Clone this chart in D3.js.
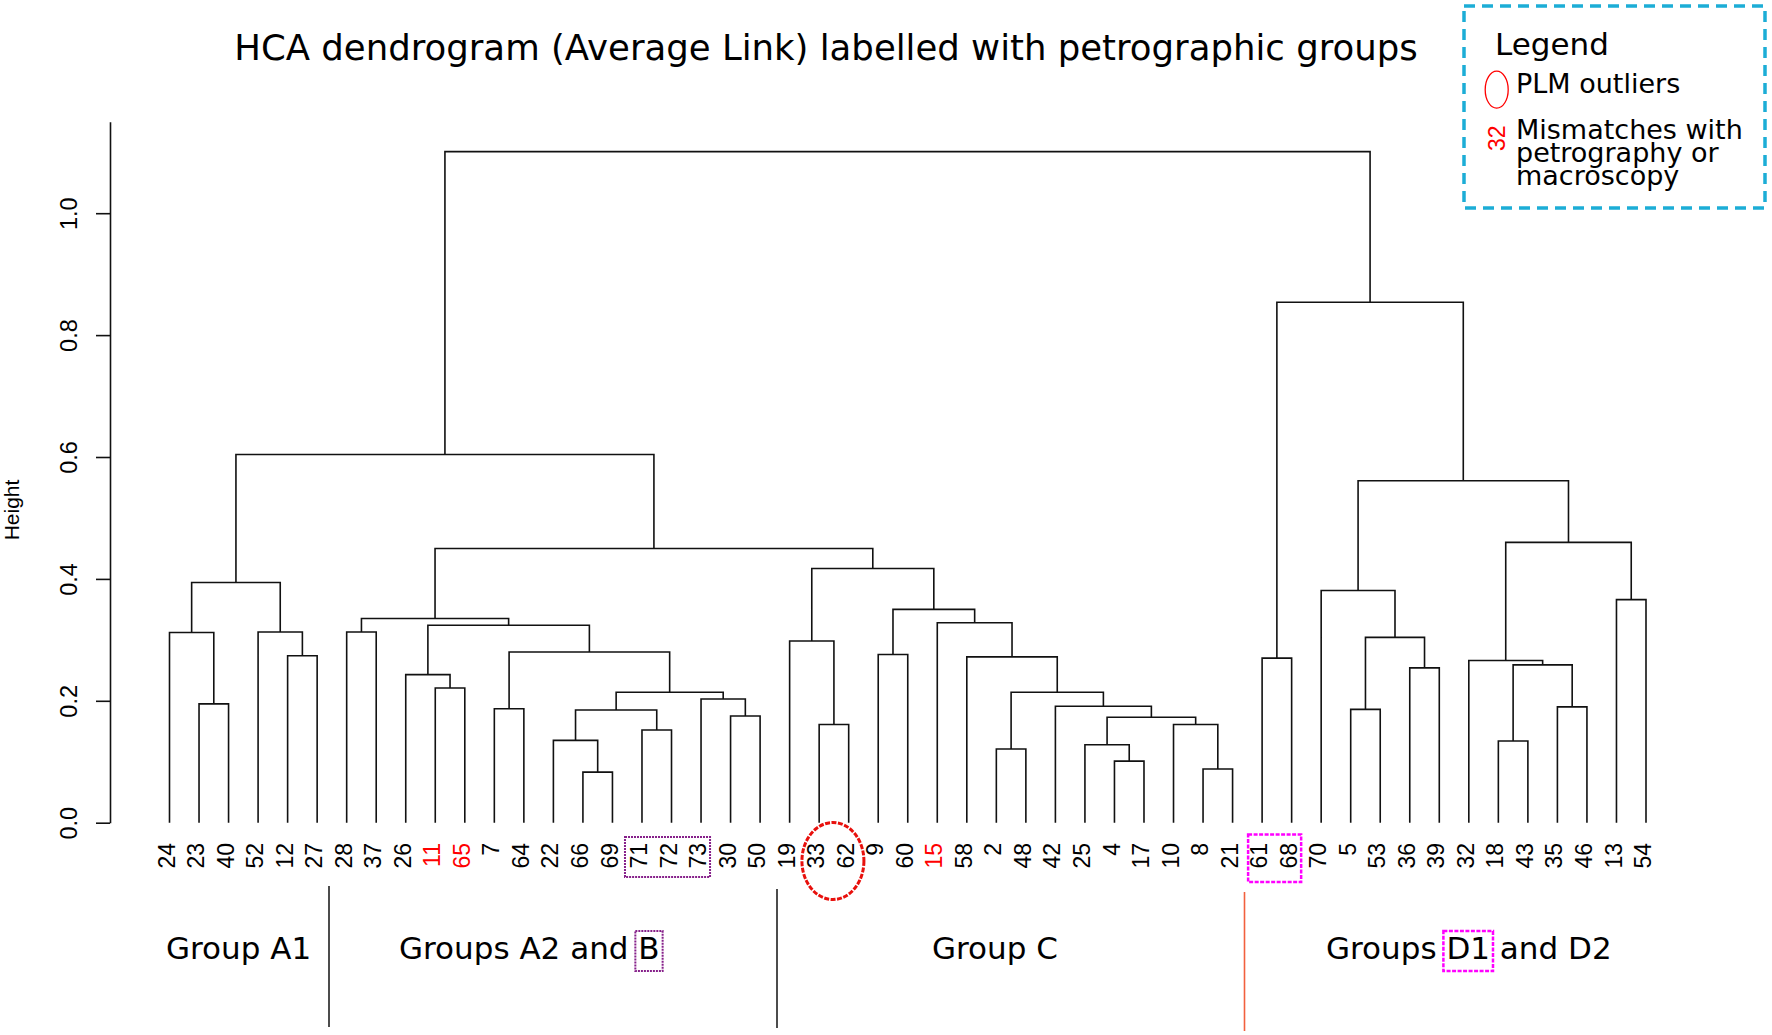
<!DOCTYPE html>
<html>
<head>
<meta charset="utf-8">
<script src="https://cdn.jsdelivr.net/npm/d3@7"></script>
<style>
body { margin: 0; background: #fff; }
</style>
</head>
<body>
<script>
// leaves in plotted order (left to right)
var leafLabels = ["24","23","40","52","12","27","28","37","26","11","65","7","64","22","66","69","71","72","73","30","50",
    "19","33","62","9","60","15","58","2","48","42","25","4","17","10","8","21",
    "61","68","70","5","53","36","39","32","18","43","35","46","13","54"];

// labels that disagree with petrography / macroscopy
var mismatchLabels = ["11","65","15"];

// merges, hclust style: a string is a leaf, a number is an earlier merge (1-based)
var mergePairs = [
    ["23","40"], ["24",1], ["12","27"], ["52",3], [2,4],
    ["28","37"], ["11","65"], ["26",7], ["7","64"], ["66","69"],
    ["22",10], ["71","72"], [11,12], ["30","50"], ["73",14],
    [13,15], [9,16], [8,17], [6,18],
    ["33","62"], ["19",20], ["9","60"], ["2","48"], ["4","17"],
    ["25",24], ["8","21"], ["10",26], [25,27], ["42",28],
    [23,29], ["58",30], ["15",31], [22,32], [21,33],
    [19,34], [5,35],
    ["61","68"], ["5","53"], ["36","39"], [38,39], ["70",40],
    ["18","43"], ["35","46"], [42,43], ["32",44], ["13","54"],
    [45,46], [41,47], [37,48], [36,49]
];
var mergeHeights = [
    0.195, 0.312, 0.274, 0.313, 0.394,
    0.313, 0.221, 0.243, 0.187, 0.083,
    0.135, 0.152, 0.185, 0.175, 0.203,
    0.214, 0.280, 0.324, 0.335,
    0.161, 0.298, 0.276, 0.121, 0.101,
    0.128, 0.088, 0.161, 0.173, 0.191,
    0.214, 0.272, 0.328, 0.350, 0.417,
    0.450, 0.604,
    0.270, 0.186, 0.254, 0.304, 0.381,
    0.134, 0.190, 0.259, 0.266, 0.366,
    0.460, 0.561, 0.854, 1.101
];

var yTicks = [0, 0.2, 0.4, 0.6, 0.8, 1.0];

var outlierLeaves = ["33","62"];
var groupBLeaves = ["71","72","73"];
var groupD1Leaves = ["61","68"];

var W = 1772, H = 1035;

// build nested tree from the merge list
var built = [];
function resolve(ref) {
    if (typeof ref === "string") return {name: ref, h: 0};
    return built[ref - 1];
}
mergePairs.forEach(function(p, i) {
    built.push({name: "m" + (i + 1), h: mergeHeights[i], children: [resolve(p[0]), resolve(p[1])]});
});
var root = d3.hierarchy(built[built.length - 1]);

var x = d3.scalePoint().domain(leafLabels).range([169.5, 1646]);
var y = d3.scaleLinear().domain([0, 1.15]).range([822.7, 822.7 - 1.15 * 609.5]);

// leaf at its slot, merge at the midpoint of its two children
root.eachAfter(function(d) {
    if (!d.children) d.px = x(d.data.name);
    else d.px = (d.children[0].px + d.children[1].px) / 2;
    d.py = y(d.data.h);
});

var svg = d3.select("body").append("svg")
    .attr("xmlns", "http://www.w3.org/2000/svg")
    .attr("width", W)
    .attr("height", H);

svg.append("rect").attr("width", W).attr("height", H).attr("fill", "#fff");

// title
svg.append("text")
    .attr("x", 826).attr("y", 60)
    .attr("text-anchor", "middle")
    .attr("font-family", "DejaVu Sans")
    .attr("font-size", "35.5px")
    .text("HCA dendrogram (Average Link) labelled with petrographic groups");

// y axis
var yAxis = d3.axisLeft(y).tickValues(yTicks).tickFormat(d3.format(".1f")).tickSize(14).tickSizeOuter(0);
var ax = svg.append("g").attr("transform", "translate(110,0)").call(yAxis);
ax.select(".domain").attr("stroke", "#111").attr("stroke-width", 1.6);
ax.selectAll(".tick line").attr("stroke", "#111").attr("stroke-width", 1.6);
ax.selectAll(".tick text")
    .attr("transform", "rotate(-90)")
    .attr("x", 0).attr("y", -33).attr("dy", 0)
    .attr("text-anchor", "middle")
    .attr("fill", "#000")
    .attr("font-family", "Liberation Sans, Arial, sans-serif")
    .attr("font-size", "23.5px");

svg.append("text")
    .attr("transform", "translate(19,510) rotate(-90)")
    .attr("text-anchor", "middle")
    .attr("font-family", "Liberation Sans, Arial, sans-serif")
    .attr("font-size", "21px")
    .text("Height");

// dendrogram links
svg.append("g").selectAll("path")
    .data(root.descendants().filter(function(d) { return d.children; }))
    .enter().append("path")
    .attr("d", function(d) {
        var a = d.children[0], b = d.children[1];
        return "M" + a.px + "," + a.py + "V" + d.py + "H" + b.px + "V" + b.py;
    })
    .attr("fill", "none")
    .attr("stroke", "#111")
    .attr("stroke-width", 1.6);

// leaf labels
svg.append("g").selectAll("text")
    .data(leafLabels)
    .enter().append("text")
    .attr("transform", function(d) { return "translate(" + x(d) + ",843) rotate(-90)"; })
    .attr("dy", "0.22em")
    .attr("text-anchor", "end")
    .attr("font-family", "Liberation Sans, Arial, sans-serif")
    .attr("font-size", "23px")
    .attr("fill", function(d) { return mismatchLabels.indexOf(d) >= 0 ? "#ff0000" : "#000"; })
    .text(function(d) { return d; });

// outlier ellipse around 33 / 62
var ox = d3.mean(outlierLeaves, function(d) { return x(d); });
svg.append("ellipse")
    .attr("cx", ox - 1).attr("cy", 861).attr("rx", 31).attr("ry", 38.5)
    .attr("fill", "none").attr("stroke", "#e8100c")
    .attr("stroke-width", 3).attr("stroke-dasharray", "5,1.5");

// group B leaves box
svg.append("rect")
    .attr("x", x(groupBLeaves[0]) - 17).attr("y", 837)
    .attr("width", x(groupBLeaves[groupBLeaves.length - 1]) - x(groupBLeaves[0]) + 26)
    .attr("height", 40)
    .attr("fill", "none").attr("stroke", "#86208a")
    .attr("stroke-width", 2).attr("stroke-dasharray", "2,1");

// group D1 leaves box
svg.append("rect")
    .attr("x", x(groupD1Leaves[0]) - 14).attr("y", 834.5)
    .attr("width", x(groupD1Leaves[groupD1Leaves.length - 1]) - x(groupD1Leaves[0]) + 23.5)
    .attr("height", 47.5)
    .attr("fill", "none").attr("stroke", "#ff00ff")
    .attr("stroke-width", 2.5).attr("stroke-dasharray", "4,1.5");

// group separators
svg.append("line").attr("x1", 329).attr("x2", 329).attr("y1", 886).attr("y2", 1027)
    .attr("stroke", "#111").attr("stroke-width", 1.5);
svg.append("line").attr("x1", 777).attr("x2", 777).attr("y1", 889).attr("y2", 1028)
    .attr("stroke", "#111").attr("stroke-width", 1.5);
svg.append("line").attr("x1", 1244.5).attr("x2", 1244.5).attr("y1", 892).attr("y2", 1031)
    .attr("stroke", "#f2603e").attr("stroke-width", 1.6);

// group names
function groupText(gx, parts, boxColor) {
    var t = svg.append("text")
        .attr("x", gx).attr("y", 959)
        .attr("font-family", "DejaVu Sans")
        .attr("font-size", "31px")
        .attr("xml:space", "preserve");
    parts.forEach(function(p) {
        var s = t.append("tspan").text(p.text);
        if (p.boxed) {
            var bb = s.node().getBBox();
            svg.append("rect")
                .attr("x", bb.x - 3).attr("y", bb.y + 1)
                .attr("width", bb.width + 6).attr("height", bb.height + 4)
                .attr("fill", "none").attr("stroke", boxColor)
                .attr("stroke-width", boxColor === "#ff00ff" ? 2.5 : 2)
                .attr("stroke-dasharray", boxColor === "#ff00ff" ? "4,1.5" : "2,1");
        }
    });
}
groupText(166, [{text: "Group A1"}]);
groupText(399, [{text: "Groups A2 and "}, {text: "B", boxed: true}], "#86208a");
groupText(932, [{text: "Group C"}]);
groupText(1326, [{text: "Groups "}, {text: "D1", boxed: true}, {text: " and D2"}], "#ff00ff");

// legend
var lg = svg.append("g");
lg.append("rect")
    .attr("x", 1464).attr("y", 6).attr("width", 301).attr("height", 202)
    .attr("fill", "none").attr("stroke", "#1cadd6")
    .attr("stroke-width", 3.5).attr("stroke-dasharray", "11,7");
lg.append("text").attr("x", 1495).attr("y", 55)
    .attr("font-family", "DejaVu Sans").attr("font-size", "31px").text("Legend");
lg.append("ellipse").attr("cx", 1496.7).attr("cy", 89.7).attr("rx", 11.5).attr("ry", 18.5)
    .attr("fill", "none").attr("stroke", "#ff0000").attr("stroke-width", 1.3);
lg.append("text").attr("x", 1516).attr("y", 92.7)
    .attr("font-family", "DejaVu Sans").attr("font-size", "27px").text("PLM outliers");
lg.append("text")
    .attr("transform", "translate(1496.7,138.3) rotate(-90)")
    .attr("dy", "0.35em")
    .attr("text-anchor", "middle")
    .attr("font-family", "Liberation Sans, Arial, sans-serif")
    .attr("font-size", "23px").attr("fill", "#ff0000").text("32");
["Mismatches with", "petrography or", "macroscopy"].forEach(function(s, i) {
    lg.append("text").attr("x", 1516).attr("y", 139.3 + i * 22.6)
        .attr("font-family", "DejaVu Sans").attr("font-size", "27px").text(s);
});
</script>
</body>
</html>
